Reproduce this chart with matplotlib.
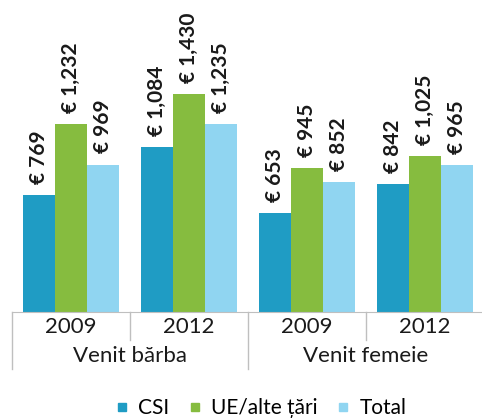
import numpy as np
import matplotlib.pyplot as plt
from matplotlib.lines import Line2D
from matplotlib.transforms import blended_transform_factory

plt.rcParams['font.family'] = ['Lato', 'DejaVu Sans']

years = ["2009", "2012", "2009", "2012"]
groups = ["Venit bărba", "Venit femeie"]
series = ["CSI", "UE/alte țări", "Total"]
csi = [769, 1084, 653, 842]
ue = [1232, 1430, 945, 1025]
total = [969, 1235, 852, 965]
colors = ["#1f9cc4", "#86bc3f", "#90d5f1"]

W, H = 482, 419
fig = plt.figure(figsize=(W / 100, H / 100), dpi=100)
ax = fig.add_axes([12 / W, (H - 312) / H, 472 / W, 312 / H])

x = np.arange(len(years))
bw = 96 / 118 / 3
for i, (vals, col) in enumerate(zip([csi, ue, total], colors)):
    pos = x + (i - 1) * bw
    ax.bar(pos, vals, width=bw, color=col, label=series[i])
    for p, v in zip(pos, vals):
        ax.annotate(f"€ {v:,}", (p, v), xytext=(0, 8), textcoords="offset points",
                    rotation=90, ha="center", va="bottom", fontsize=15,
                    fontweight="bold", color="#1a1a1a")

ax.set_xlim(-0.5, len(years) - 0.5)
ax.set_ylim(0, 2050)
for s in ["top", "right", "left"]:
    ax.spines[s].set_visible(False)
ax.spines["bottom"].set_color("#bfbfbf")
ax.set_xticks([])
ax.set_yticks([])

# two-level category axis
tr = blended_transform_factory(ax.transData, fig.transFigure)
y0 = (H - 312) / H
for b in [-0.5, 1.5]:
    ax.plot([b, b], [y0, (H - 369) / H], color="#bfbfbf", lw=1, transform=tr, clip_on=False)
for b in [0.5, 2.5]:
    ax.plot([b, b], [y0, (H - 340) / H], color="#bfbfbf", lw=1, transform=tr, clip_on=False)
for xi, yr in zip(x, years):
    ax.text(xi, (H - 327) / H, yr, transform=tr, ha="center", va="center",
            fontsize=16, color="#1a1a1a")
for gi, g in enumerate(groups):
    ax.text(gi * 2 + 0.5, (H - 356) / H, g, transform=tr, ha="center", va="center",
            fontsize=16, color="#1a1a1a")

handles = [Line2D([], [], marker="s", linestyle="none", markersize=6,
                  markerfacecolor=c, markeredgecolor=c) for c in colors]
fig.legend(handles, series, loc="center", bbox_to_anchor=(261 / W, (H - 408) / H), ncol=3,
           frameon=False, fontsize=15, handlelength=0.6, handletextpad=0.5,
           columnspacing=0.9, borderpad=0)

fig.savefig("out.png", dpi=100)
